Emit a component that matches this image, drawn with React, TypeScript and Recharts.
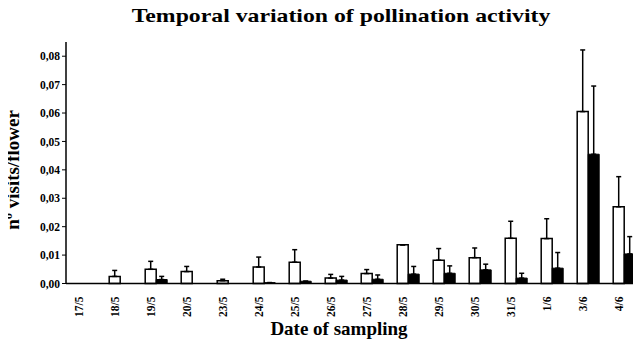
import React from "react";
import { BarChart, Bar, XAxis, YAxis, ErrorBar } from "recharts";

const dates = ["17/5", "18/5", "19/5", "20/5", "23/5", "24/5", "25/5", "26/5", "27/5", "28/5", "29/5", "30/5", "31/5", "1/6", "3/6", "4/6"];
const whiteVals = [0, 0.0025, 0.005, 0.0042, 0.001, 0.0058, 0.0075, 0.0019, 0.0035, 0.0136, 0.0082, 0.0091, 0.0159, 0.0158, 0.0605, 0.027];
const whiteTops = [0, 0.0046, 0.0078, 0.006, 0.0015, 0.0093, 0.0119, 0.0032, 0.0049, 0.0136, 0.0123, 0.0125, 0.0219, 0.0228, 0.0822, 0.0376];
const blackVals = [0, 0, 0.0014, 0, 0, 0.0003, 0.0008, 0.0012, 0.0015, 0.0033, 0.0036, 0.0048, 0.0019, 0.0054, 0.0455, 0.0104];
const blackTops = [0, 0, 0.0025, 0, 0, 0.0003, 0.0008, 0.0025, 0.003, 0.006, 0.0062, 0.0068, 0.0036, 0.0109, 0.0695, 0.0165];
const yTicks = [0, 0.01, 0.02, 0.03, 0.04, 0.05, 0.06, 0.07, 0.08];

const data = dates.map((d, i) => ({
  date: d,
  white: whiteVals[i],
  black: blackVals[i],
  wErr: [0, whiteTops[i] - whiteVals[i]],
  bErr: [0, blackTops[i] - blackVals[i]],
}));

const serif = "'Liberation Serif', 'Times New Roman', serif";

function DateTick({ x, y, payload }: any) {
  return (
    <text x={x - 5.4} y={y + 5} transform={`rotate(-90, ${x - 5.4}, ${y + 5})`} textAnchor="end" dominantBaseline="central"
      fontFamily={serif} fontWeight="bold" fontSize={11.5} fill="#000">
      {payload.value}
    </text>
  );
}

export default function App() {
  return (
    <div style={{ position: "relative", width: 625, height: 337, background: "#fff" }}>
      <style>{"html{overflow:hidden} body{margin-right:0}"}</style>
      <div style={{ position: "absolute", left: 333, top: -2, lineHeight: "19px", transform: "translateX(-50%) scaleX(1.25)", whiteSpace: "nowrap",
        fontFamily: serif, fontWeight: "bold", fontSize: 19 }}>
        Temporal variation of pollination activity
      </div>
      <div style={{ position: "absolute", left: 4, top: 162, transform: "translate(-50%, -50%) rotate(-90deg)", whiteSpace: "nowrap",
        fontFamily: serif, fontWeight: "bold", fontSize: 19, lineHeight: "19px" }}>
        nº visits/flower
      </div>
      <div style={{ position: "absolute", left: 331, top: 320, transform: "translate(-50%, -50%)", whiteSpace: "nowrap",
        fontFamily: serif, fontWeight: "bold", fontSize: 19, lineHeight: "19px" }}>
        Date of sampling
      </div>
      <div style={{ position: "absolute", left: 0, top: 0 }}>
        <BarChart width={625} height={337} data={data} margin={{ top: 34, right: -9, bottom: 21.5, left: 0 }}
          barCategoryGap="20%" barGap={0}>
          <XAxis dataKey="date" interval={0} height={40} tick={<DateTick />} tickLine={false} axisLine={{ stroke: "#000", strokeWidth: 1.5 }} />
          <XAxis xAxisId="top" dataKey="date" orientation="top" height={0} tick={false} tickLine={false} axisLine={{ stroke: "#000", strokeWidth: 1.5 }} />
          <YAxis domain={[0, 0.085]} ticks={yTicks} width={58} interval={0} tickSize={4}
            tickFormatter={(v) => v.toFixed(2).replace(".", ",")}
            tick={{ fill: "#000", fontFamily: serif, fontWeight: "bold", fontSize: 11.5 }}
            tickLine={{ stroke: "#000" }} axisLine={{ stroke: "#000", strokeWidth: 1.5 }} />
          <Bar dataKey="white" fill="#fff" stroke="#000" strokeWidth={1.5} isAnimationActive={false}>
            <ErrorBar dataKey="wErr" direction="y" width={2.5} stroke="#000" strokeWidth={1.5} />
          </Bar>
          <Bar dataKey="black" fill="#000" stroke="#000" strokeWidth={1} isAnimationActive={false}>
            <ErrorBar dataKey="bErr" direction="y" width={2.5} stroke="#000" strokeWidth={1.5} />
          </Bar>
        </BarChart>
      </div>
    </div>
  );
}
